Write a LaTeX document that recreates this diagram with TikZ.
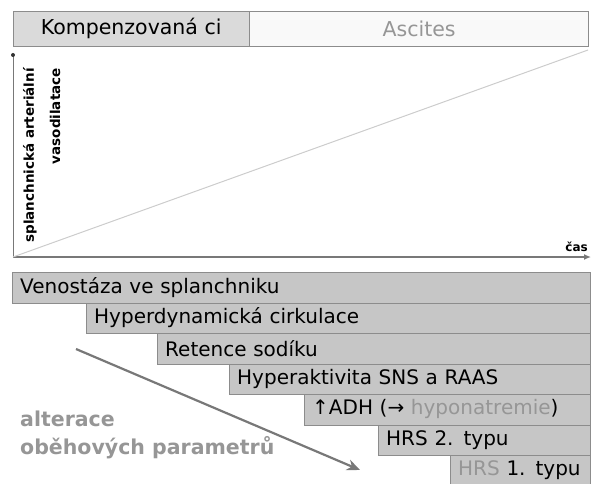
\documentclass[tikz,border=0pt]{standalone}
\usepackage{fontspec}
\setmainfont{DejaVu Sans}
\usetikzlibrary{arrows.meta,positioning}
\definecolor{barfill}{RGB}{198, 198, 198}
\definecolor{barline}{RGB}{140, 140, 140}
\definecolor{headfill}{RGB}{218, 218, 218}
\definecolor{softgray}{RGB}{150, 150, 150}
\definecolor{axisgray}{RGB}{120, 120, 120}

\begin{document}
\begin{tikzpicture}[
    x=1pt, y=-1pt,
    every node/.style={inner sep=0pt},
    head/.style={rectangle, minimum height=35pt, draw=barline, text centered, font=\fontsize{20.5}{24}\selectfont},
    bar/.style={rectangle, anchor=north west, minimum height=30.5pt, inner xsep=8pt, align=left, draw=barline, fill=barfill, font=\fontsize{20}{24}\selectfont},
    ylab/.style={rotate=90, anchor=east, font=\bfseries\fontsize{13.5}{15}\selectfont},
    arrow/.style={line width=2.2pt, draw=axisgray, -{Stealth[length=13pt,width=11pt]}}
]
\useasboundingbox (0,0) rectangle (594,484);

% Phases on top
\node[head, fill=headfill, minimum width=236pt, anchor=north west] (komp) at (13,11) {Kompenzovaná ci};
\node[head, fill=gray!5, minimum width=339pt, right=0pt of komp, text=softgray] (asc) {Ascites};

% Axes
\coordinate (o) at (13,257);
\coordinate (ytop) at (13,55);
\coordinate (xend) at (591,257);
\coordinate (diag) at (588,50);
\draw[axisgray, line width=1pt] (o) -- (ytop);
\fill[black!80] (ytop) circle (2pt);
\draw[axisgray, line width=1.3pt, -{Latex[length=7pt,width=6pt]}] (o) -- (xend);
\draw[gray!40, line width=1pt] (o) -- (diag);
\node[ylab] (yl1) at (30,68) {splanchnická arteriální};
\node[ylab] (yl2) at (55,68) {vasodilatace};
\node[anchor=south east, font=\bfseries\fontsize{12}{14}\selectfont] (cas) at (588,252) {čas};

% Cascade of changes
\node[bar, text width=562pt] (b1) at (12,272) {Venostáza ve splanchniku};
\node[bar, text width=488pt] (b2) at (86,302.5) {Hyperdynamická cirkulace};
\node[bar, text width=417pt] (b3) at (157,333) {Retence sodíku};
\node[bar, text width=345pt] (b4) at (229,363.5) {Hyperaktivita SNS a RAAS};
\node[bar, text width=270pt] (b5) at (304,394) {↑ADH (→ \textcolor{softgray}{hyponatremie})};
\node[bar, text width=196pt] (b6) at (378,424.5) {HRS 2. typu};
\node[bar, text width=124pt] (b7) at (450,455) {\textcolor{softgray}{HRS} 1. typu};

% Trend
\coordinate (tstart) at (76,349);
\coordinate (tend) at (360,470);
\draw[arrow] (tstart) -- (tend);
\node[anchor=north west, align=left, text=softgray, font=\bfseries\fontsize{20.5}{28}\selectfont] (alt) at (20,411) {alterace\\oběhových parametrů};

\end{tikzpicture}
\end{document}
